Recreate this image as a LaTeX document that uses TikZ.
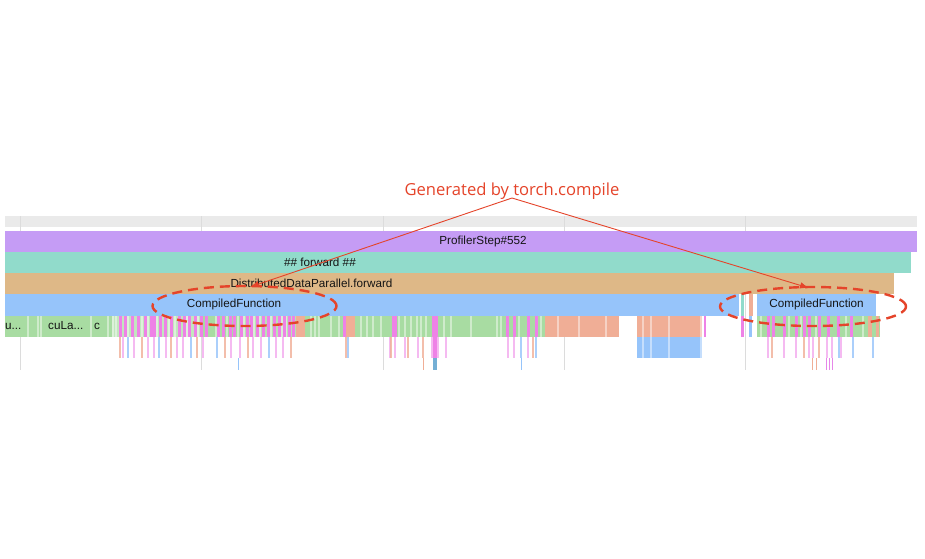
\documentclass[tikz,border=0pt]{standalone}
\usepackage{fontspec}
\setmainfont{Liberation Sans}
\newfontfamily\annfont{Open Sans}
\usetikzlibrary{arrows.meta}
\definecolor{purpc}{RGB}{197,156,245}
\definecolor{tealc}{RGB}{145,219,203}
\definecolor{tanc}{RGB}{222,184,135}
\definecolor{bluec}{RGB}{150,196,250}
\definecolor{greenc}{RGB}{168,220,162}
\definecolor{pinkc}{RGB}{238,130,230}
\definecolor{salmc}{RGB}{240,174,150}
\definecolor{hdrc}{RGB}{234,234,234}
\definecolor{gridc}{RGB}{220,220,220}
\definecolor{redc}{RGB}{229,68,42}
\definecolor{txtc}{RGB}{20,20,20}
\tikzset{
  lbl/.style={inner sep=0pt, text=txtc, font=\fontsize{11.7}{13}\selectfont},
  ann/.style={inner sep=0pt, text=redc, font=\annfont\fontsize{16.6}{19}\selectfont},
  arr/.style={draw=redc, line width=0.9pt, -{Latex[length=9pt,width=6.5pt]}},
  dashring/.style={draw=redc, line width=2.4pt, dash pattern=on 10pt off 6pt},
  pale/.style={fill=white, fill opacity=0.45},
  gline/.style={draw=gridc, line width=0.8pt}
}
\begin{document}
\begin{tikzpicture}[x={(1pt,0)}, y={(0,-1pt)}]
\useasboundingbox (0,0) rectangle (925,558);
\fill[white] (0,0) rectangle (925,558);
% header strip and grid lines
\fill[hdrc] (5,216) rectangle (917,227);
\foreach \gx in {20,201,383,564,745} \draw[gline] (\gx,216) -- (\gx,370);
% main bars
\fill[purpc] (5,231) rectangle (917,252);
\fill[tealc] (5,252) rectangle (911,273);
\fill[tanc] (5,273) rectangle (894,294);
\fill[bluec] (5,294) rectangle (739,316);
\fill[tealc] (741,294) rectangle (744,316);
\fill[salmc] (749,294) rectangle (753,316);
\fill[bluec] (757,294) rectangle (876,316);
% row 5 base
\fill[greenc] (5,316) rectangle (545,337);
\fill[salmc] (296,316) rectangle (305,337);
\fill[salmc] (345,316) rectangle (355,337);
\fill[salmc] (545,316) rectangle (619,337);
\fill[salmc] (637,316) rectangle (702,337);
\fill[pinkc] (704,316) rectangle (706,337);
\fill[pinkc] (741,316) rectangle (744,337);
\fill[bluec] (749,316) rectangle (752,337);
\fill[greenc] (757,316) rectangle (880,337);
\fill[salmc] (868,316) rectangle (872,337);
\fill[salmc] (876,316) rectangle (879,337);
% pale separators row 5
\foreach \px in {27,37,40,90,107,112,115,127,141,147,156,168,174,186,197,215,226,237,243,253,259,270,281,285,310,314,318,330,338,360,366,372,380,398,404,410,416,420,425,443,450,470,496,500,518,540,557,578,605,642,650,668,700,760,788,800,815,845,862}
  \fill[pale] (\px,316) rectangle ++(1.5,21);
\fill[white,fill opacity=0.3] (112,316) rectangle (200,337);
\fill[white,fill opacity=0.2] (240,316) rectangle (296,337);
% pink stripes row 5
\foreach \px in {119,124,131,137,144,150,153,159,164,170,178,183,188,194,200,205,217,222,229,233,240,246,250,256,262,267,273,278,283,288,292,343,506,513,527,535,767,772,783,795,803,808,818,827,837,850}
  \fill[pinkc] (\px,316) rectangle ++(2.5,21);
\fill[pinkc] (392,316) rectangle (397,337);
\fill[pinkc] (432,316) rectangle (438,337);
% row 6
\fill[bluec] (637,337) rectangle (702,358);
\foreach \px in {642,650,668,700}
  \fill[pale] (\px,337) rectangle ++(1.5,21);
\foreach \px in {122,133,147,153,165,176,182,202,230,239,252,260,275,282,389,394,404,417,431,437,445,507,513,527,767,783,795,808,812,826,831,840}
  \fill[pinkc,fill opacity=0.55] (\px,337) rectangle ++(1.6,21);
\foreach \px in {119,141,170,196,224,247,290,345,390,407,422,532,771,803,818}
  \fill[salmc,fill opacity=0.8] (\px,337) rectangle ++(1.6,21);
\foreach \px in {127,158,190,216,268,347,434,520,535,838,852,872}
  \fill[bluec,fill opacity=0.8] (\px,337) rectangle ++(1.6,21);
\fill[pinkc] (433,337) rectangle (437,358);
% row 7
\fill[bluec] (238,358) rectangle ++(1.2,12);
\fill[salmc] (423,358) rectangle ++(1.2,12);
\fill[tealc!80!blue] (433,358) rectangle (437,370);
\fill[bluec] (521,358) rectangle ++(1.2,12);
\foreach \px in {812,816} \fill[salmc] (\px,358) rectangle ++(1.2,12);
\foreach \px in {826,829,832} \fill[pinkc!80!purpc] (\px,358) rectangle ++(1.2,12);
% labels
\node[lbl] (ps) at (483,241) {ProfilerStep\#552};
\node[lbl] (fw) at (320,262) {\#\# forward \#\#};
\node[lbl] (ddp) at (311.5,283) {DistributedDataParallel.forward};
\node[lbl] (cf1) at (234,304) {CompiledFunction};
\node[lbl] (cf2) at (816.5,304) {CompiledFunction};
\node[lbl, anchor=west] (k1) at (5,326) {u...};
\node[lbl, anchor=west] (k2) at (48,326) {cuLa...};
\node[lbl, anchor=west] (k3) at (94,326) {c};
% annotation
\node[ann] (gen) at (512,191) {Generated by torch.compile};
\coordinate (apex) at (512,198);
\coordinate (tipL) at (250,287);
\coordinate (tipR) at (809,288);
\draw[arr] (apex) -- (tipL);
\draw[arr] (apex) -- (tipR);
\draw[dashring] (244.5,306) ellipse [x radius=92pt, y radius=20pt];
\draw[dashring] (813,306.5) ellipse [x radius=93pt, y radius=19.5pt];
\end{tikzpicture}
\end{document}
